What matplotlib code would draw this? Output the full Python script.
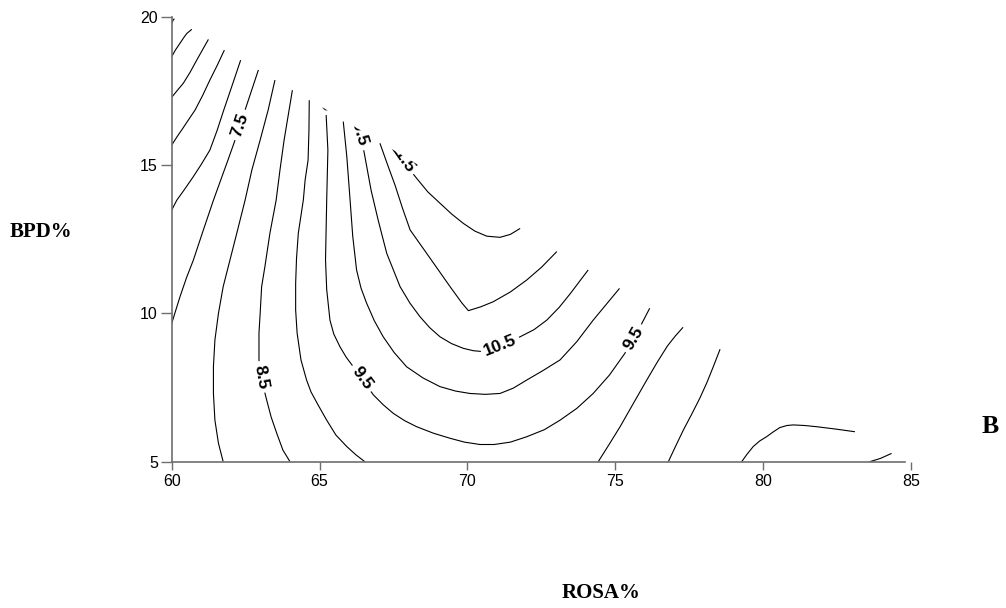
import numpy as np
import matplotlib
matplotlib.use("Agg")
import matplotlib.pyplot as plt
from matplotlib.contour import ContourSet

plt.rcParams["font.family"] = ["Liberation Sans", "DejaVu Sans"]

# contour levels of the fitted response
levels = [5.0, 5.5, 6.0, 6.5, 7.0, 7.5, 8.0, 8.5, 9.0, 9.5, 10.0, 10.5, 11.0, 11.5]

# contour paths as (ROSA%, BPD%) points
c50_x = [60.0, 60.05, 60.09]
c50_y = [19.78, 19.88, 19.93]

c55_x = [60.0, 60.13, 60.28, 60.40, 60.51, 60.68]
c55_y = [18.65, 18.88, 19.10, 19.28, 19.43, 19.57]

c60_x = [60.0, 60.18, 60.39, 60.62, 60.85, 61.07, 61.24]
c60_y = [17.28, 17.50, 17.75, 18.12, 18.54, 18.93, 19.23]

c65_x = [60.0, 60.18, 60.38, 60.58, 60.79, 61.05, 61.29, 61.55, 61.78]
c65_y = [15.67, 15.95, 16.24, 16.54, 16.85, 17.35, 17.86, 18.38, 18.87]

c70_x = [60.0, 60.17, 60.45, 60.72, 61.00, 61.29, 61.53, 61.76, 62.05, 62.33]
c70_y = [13.48, 13.81, 14.20, 14.59, 15.02, 15.50, 16.15, 16.85, 17.70, 18.53]

c75a_x = [60.0, 60.12, 60.28, 60.50, 60.73, 61.05, 61.41, 61.66, 61.90, 62.11,
          62.31, 62.48, 62.65, 62.93]
c75a_y = [9.66, 10.05, 10.56, 11.20, 11.79, 12.75, 13.81, 14.50, 15.16, 15.75,
          16.35, 16.85, 17.36, 18.20]
c75b_x = [83.60, 83.96, 84.34]
c75b_y = [5.00, 5.11, 5.28]

c80a_x = [61.74, 61.58, 61.46, 61.41, 61.41, 61.46, 61.58, 61.74, 61.97, 62.20,
          62.48, 62.71, 62.99, 63.26, 63.49]
c80a_y = [5.00, 5.62, 6.40, 7.30, 8.20, 9.10, 10.00, 10.90, 11.80, 12.70,
          13.81, 14.83, 15.84, 16.85, 17.86]
c80b_x = [79.27, 79.45, 79.66, 79.88, 80.11, 80.33, 80.56, 80.80, 81.01, 81.40,
          81.80, 82.45, 83.10]
c80b_y = [5.00, 5.25, 5.51, 5.70, 5.84, 6.00, 6.15, 6.22, 6.24, 6.22,
          6.18, 6.10, 6.01]

c85a_x = [64.00, 63.76, 63.55, 63.36, 63.21, 63.04, 62.95, 62.95, 62.99, 63.04,
          63.15, 63.32, 63.53, 63.66, 63.80, 63.94, 64.08]
c85a_y = [5.00, 5.39, 5.96, 6.51, 7.08, 7.75, 8.43, 9.33, 10.00, 10.90,
          11.57, 12.70, 13.81, 14.83, 15.84, 16.68, 17.52]
c85b_x = [76.79, 77.05, 77.30, 77.58, 77.86, 78.10, 78.31, 78.54]
c85b_y = [5.00, 5.55, 6.07, 6.60, 7.15, 7.68, 8.20, 8.79]

c90a_x = [66.53, 66.23, 65.92, 65.55, 65.24, 64.95, 64.71, 64.56, 64.37, 64.24,
          64.19, 64.19, 64.22, 64.28, 64.45, 64.51, 64.61, 64.64, 64.65]
c90a_y = [5.00, 5.23, 5.51, 5.90, 6.40, 6.91, 7.35, 7.75, 8.43, 9.33,
          10.11, 11.01, 11.86, 12.70, 13.82, 14.49, 15.16, 16.17, 17.18]
c90b_x = [74.42, 74.80, 75.16, 75.60, 76.06, 76.42, 76.76, 77.03, 77.29]
c90b_y = [5.00, 5.60, 6.18, 6.95, 7.75, 8.36, 8.90, 9.24, 9.53]

c95_x = [65.13, 65.15, 65.18, 65.21, 65.28, 65.24, 65.20, 65.24, 65.35, 65.48,
         65.69, 65.90, 66.14, 66.48, 66.82, 67.15, 67.49, 67.88, 68.28, 68.85,
         69.41, 69.90, 70.42, 70.90, 71.45, 72.00, 72.60, 73.13, 73.70, 74.25,
         74.80, 75.32, 75.75, 76.16]
c95_y = [17.90, 17.60, 17.22, 16.91, 15.50, 13.82, 11.80, 10.80, 9.77, 9.30,
         8.87, 8.52, 8.20, 7.72, 7.25, 6.92, 6.63, 6.38, 6.18, 5.96,
         5.79, 5.66, 5.58, 5.58, 5.66, 5.84, 6.08, 6.40, 6.80, 7.30,
         7.92, 8.65, 9.38, 10.17]

c100_x = [65.80, 65.92, 66.03, 66.12, 66.25, 66.40, 66.59, 66.85, 67.15, 67.52,
          67.94, 68.50, 69.07, 69.60, 70.08, 70.60, 71.10, 71.55, 72.00, 72.55,
          73.13, 73.70, 74.25, 75.14]
c100_y = [16.46, 15.28, 13.82, 12.60, 11.46, 10.85, 10.34, 9.75, 9.21, 8.68,
          8.20, 7.82, 7.53, 7.38, 7.30, 7.27, 7.30, 7.48, 7.75, 8.07,
          8.43, 9.05, 9.77, 10.84]

c105_x = [66.10, 66.20, 66.30, 66.37, 66.48, 66.74, 66.98, 67.27, 67.72, 68.05,
          68.39, 68.72, 69.07, 69.46, 69.86, 70.20, 70.53, 70.82, 71.10, 71.78,
          72.25, 72.68, 73.10, 73.48, 74.08]
c105_y = [16.90, 16.50, 16.17, 15.90, 15.56, 14.15, 13.14, 12.02, 10.90, 10.35,
          9.89, 9.52, 9.21, 8.98, 8.82, 8.74, 8.71, 8.78, 8.93, 9.21,
          9.45, 9.77, 10.20, 10.67, 11.46]

c110_x = [67.04, 67.30, 67.55, 67.80, 68.06, 68.62, 69.41, 69.81, 70.03, 70.45,
          70.87, 71.45, 72.00, 72.50, 73.02]
c110_y = [15.73, 15.00, 14.32, 13.55, 12.81, 12.02, 10.90, 10.35, 10.09, 10.22,
          10.39, 10.72, 11.12, 11.55, 12.08]

c115_x = [67.50, 67.75, 68.00, 68.28, 68.66, 69.07, 69.46, 69.86, 70.25, 70.65,
          71.10, 71.45, 71.78]
c115_y = [15.65, 15.28, 14.90, 14.55, 14.09, 13.71, 13.35, 13.03, 12.77, 12.60,
          12.56, 12.66, 12.86]

# where the level labels sit
label_x = [62.31, 62.99, 66.42, 71.10, 75.61, 65.17, 66.30, 67.78]
label_y = [16.35, 7.85, 7.80, 8.93, 9.16, 17.22, 16.17, 15.25]

# mixture constraint: ROSA% and BPD% limited by this edge
edge_x = [60, 85]
edge_y = [20, 5]

x_ticks = [60, 65, 70, 75, 80, 85]
y_ticks = [5, 10, 15, 20]


def seg(xs, ys):
    return np.column_stack([xs, ys])


allsegs = [
    [seg(c50_x, c50_y)],
    [seg(c55_x, c55_y)],
    [seg(c60_x, c60_y)],
    [seg(c65_x, c65_y)],
    [seg(c70_x, c70_y)],
    [seg(c75a_x, c75a_y), seg(c75b_x, c75b_y)],
    [seg(c80a_x, c80a_y), seg(c80b_x, c80b_y)],
    [seg(c85a_x, c85a_y), seg(c85b_x, c85b_y)],
    [seg(c90a_x, c90a_y), seg(c90b_x, c90b_y)],
    [seg(c95_x, c95_y)],
    [seg(c100_x, c100_y)],
    [seg(c105_x, c105_y)],
    [seg(c110_x, c110_y)],
    [seg(c115_x, c115_y)],
]

fig = plt.figure(figsize=(10.06, 6.08), dpi=100)
ax = fig.add_axes([0.1707, 0.2406, 0.7350, 0.7322])

cs = ContourSet(ax, levels, allsegs, colors="k", linewidths=0.8)
with plt.rc_context({"font.weight": "bold"}):
    ax.clabel(cs, manual=list(zip(label_x, label_y)), inline=True,
              inline_spacing=4, fmt="%.1f", fontsize=12.5)

# blank out the infeasible corner above the constraint edge
ax.fill([edge_x[0], edge_x[1], edge_x[1], edge_x[0]],
        [edge_y[0], edge_y[1], 25, 25], color="white", lw=0, zorder=5)

ax.set_xlim(60, 85)
ax.set_ylim(5, 20)
ax.set_xticks(x_ticks)
ax.set_yticks(y_ticks)

for side in ["top", "right"]:
    ax.spines[side].set_visible(False)
for side in ["left", "bottom"]:
    ax.spines[side].set_color("#6e6e6e")
    ax.spines[side].set_linewidth(1.2)
    ax.spines[side].set_zorder(6)
ax.spines["bottom"].set_bounds(60, 84.8)

ax.tick_params(axis="both", color="#6e6e6e", width=1.0, labelsize=11.5)
ax.tick_params(axis="x", length=6, pad=3)
ax.tick_params(axis="y", length=8, pad=2)

serif = ["Liberation Serif", "DejaVu Serif"]
ax.set_ylabel("BPD%", rotation=0, family=serif, fontweight="bold",
              fontsize=15, ha="center", va="center")
ax.yaxis.set_label_coords(-0.1768, 0.516)
ax.set_xlabel("ROSA%", family=serif, fontweight="bold", fontsize=15,
              ha="center", va="center")
ax.xaxis.set_label_coords(0.5807, -0.295)
ax.text(1.107, 0.078, "B", transform=ax.transAxes, family=serif,
        fontweight="bold", fontsize=18.5, ha="center", va="center")

fig.savefig("out.png", dpi=100)
